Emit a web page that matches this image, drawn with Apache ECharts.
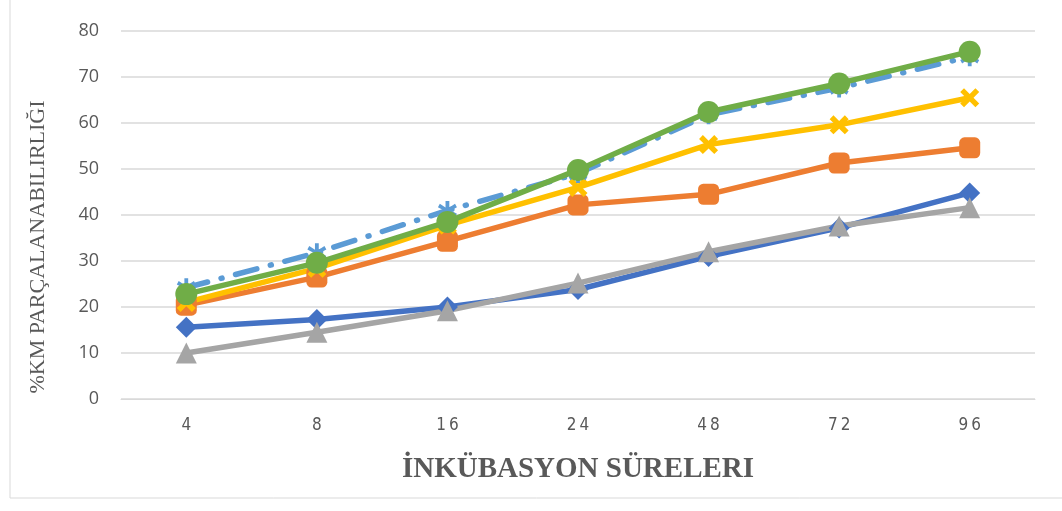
<!DOCTYPE html>
<html>
<head>
<meta charset="utf-8">
<script src="https://cdn.jsdelivr.net/npm/echarts@6/dist/echarts.min.js"></script>
<style>
  html, body { margin: 0; padding: 0; background: #fff; }
  #chart { width: 1062px; height: 511px; }
</style>
</head>
<body>
<div id="chart"></div>
<script>
// hours of incubation
const categories = ["4", "8", "16", "24", "48", "72", "96"];

const seriesBlue = [15.6, 17.3, 20.0, 23.8, 31.0, 37.2, 44.8];
const seriesOrange = [20.4, 26.5, 34.3, 42.2, 44.5, 51.3, 54.6];
const seriesGray = [10.0, 14.5, 19.2, 25.2, 32.0, 37.6, 41.6];
const seriesYellow = [21.0, 28.4, 37.8, 46.0, 55.3, 59.6, 65.5];
const seriesLightBlue = [24.2, 31.8, 41.0, 49.0, 61.8, 67.6, 74.4];
const seriesGreen = [22.8, 29.6, 38.5, 49.8, 62.4, 68.6, 75.5];

const yTicks = [0, 10, 20, 30, 40, 50, 60, 70, 80];

const xMark = "path://M2,0 L5,3 L8,0 L10,2 L7,5 L10,8 L8,10 L5,7 L2,10 L0,8 L3,5 L0,2 Z";
const starMark = "path://M4,0 L6,0 L6,3.5 L9,1.5 L10,3.3 L6.8,5 L10,6.7 L9,8.5 L6,6.5 L6,10 L4,10 L4,6.5 L1,8.5 L0,6.7 L3.2,5 L0,3.3 L1,1.5 L4,3.5 Z";

const chart = echarts.init(document.getElementById("chart"));

const mkLine = (name, data, color, symbol, size, dashed) => ({
  name: name,
  type: "line",
  data: data,
  symbol: symbol,
  symbolSize: size,
  showSymbol: true,
  lineStyle: { color: color, width: 5.5, type: dashed ? [22, 14, 1, 14] : "solid", cap: "round" },
  itemStyle: { color: color },
  emphasis: { disabled: true },
  animation: false,
});

const option = {
  animation: false,
  grid: { left: 121, right: 27, top: 31, bottom: 112 },
  xAxis: {
    type: "category",
    data: categories,
    boundaryGap: true,
    axisLine: { show: true, lineStyle: { color: "#D9D9D9", width: 1 } },
    axisTick: { show: false },
    axisLabel: {
      color: "#595959",
      fontSize: 17,
      fontFamily: "Liberation Sans Narrow, DejaVu Sans Condensed, sans-serif",
      margin: 18,
      formatter: (v) => v.split("").join("\u2009"),
    },
    name: "İNKÜBASYON SÜRELERI",
    nameLocation: "middle",
    nameGap: 56,
    nameTextStyle: {
      color: "#595959",
      fontSize: 29,
      fontWeight: "bold",
      fontFamily: "Liberation Serif, serif",
    },
  },
  yAxis: {
    type: "value",
    min: yTicks[0],
    max: yTicks[yTicks.length - 1],
    interval: 10,
    axisLine: { show: false },
    axisTick: { show: false },
    splitLine: { lineStyle: { color: "#D9D9D9", width: 1.5 } },
    axisLabel: {
      color: "#595959",
      fontSize: 18,
      fontFamily: "Open Sans, Calibri, sans-serif",
      margin: 22,
    },
    name: "%KM PARÇALANABILIRLIĞI",
    nameLocation: "middle",
    nameGap: 72,
    nameTextStyle: {
      color: "#595959",
      fontSize: 22,
      fontFamily: "Liberation Serif, serif",
      padding: [0, 0, 0, -64],
    },
  },
  graphic: [
    {
      type: "rect",
      shape: { x: 10, y: -2, width: 1060, height: 500 },
      style: { fill: "none", stroke: "#D9D9D9", lineWidth: 1 },
      silent: true,
    },
  ],
  series: [
    mkLine("1", seriesBlue, "#4472C4", "diamond", 21, false),
    mkLine("2", seriesOrange, "#ED7D31", "roundRect", 21, false),
    mkLine("3", seriesGray, "#A5A5A5", "triangle", 21, false),
    mkLine("4", seriesYellow, "#FFC000", xMark, 19, false),
    mkLine("5", seriesLightBlue, "#5B9BD5", starMark, 19, true),
    mkLine("6", seriesGreen, "#70AD47", "circle", 22, false),
  ],
};

chart.setOption(option);
</script>
</body>
</html>
